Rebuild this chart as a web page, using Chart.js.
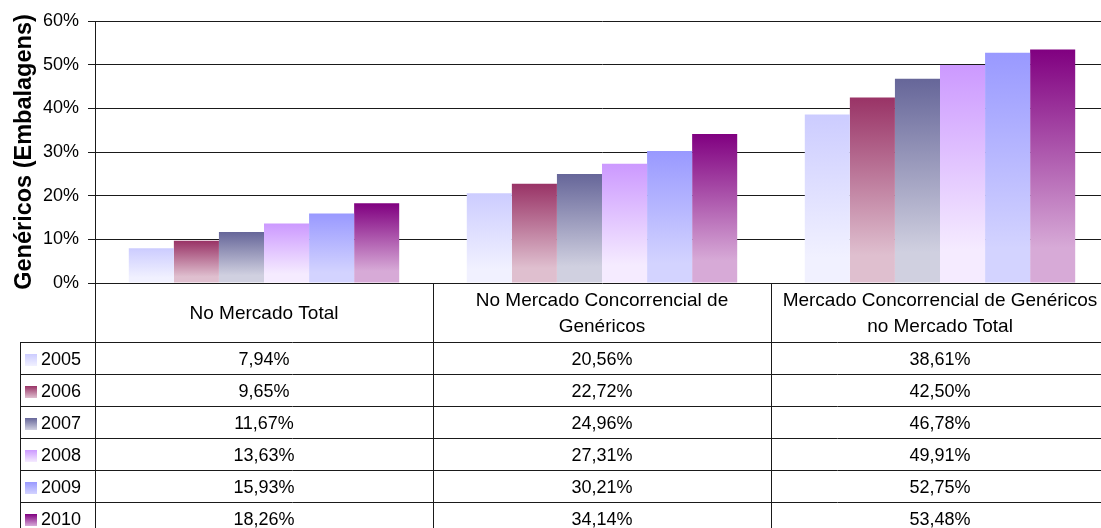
<!DOCTYPE html>
<html>
<head>
<meta charset="utf-8">
<script src="https://cdn.jsdelivr.net/npm/chart.js@4/dist/chart.umd.min.js"></script>
<style>
    html, body { margin: 0; padding: 0; overflow: hidden; background: #fff; }
    #wrap { width: 1110px; height: 528px; }
</style>
</head>
<body>
<div id="wrap"><canvas id="chart" width="1110" height="528"></canvas></div>
<script>
const categories = [
    ['No Mercado Total'],
    ['No Mercado Concorrencial de', 'Genéricos'],
    ['Mercado Concorrencial de Genéricos', 'no Mercado Total']
];
const years = ['2005', '2006', '2007', '2008', '2009', '2010'];
const values2005 = [7.94, 20.56, 38.61];
const values2006 = [9.65, 22.72, 42.50];
const values2007 = [11.67, 24.96, 46.78];
const values2008 = [13.63, 27.31, 49.91];
const values2009 = [15.93, 30.21, 52.75];
const values2010 = [18.26, 34.14, 53.48];
const yTicks = [0, 10, 20, 30, 40, 50, 60];

const seriesValues = [values2005, values2006, values2007, values2008, values2009, values2010];
// top colour / light bottom colour of every series gradient
const topColors = ['#ccccff', '#993366', '#666699', '#cc99ff', '#9999ff', '#800080'];
const bottomColors = ['#f1f1ff', '#dfbfcf', '#d0d0e0', '#f5ebff', '#d3d3ff', '#d7aad7'];

const fontFamily = "'Liberation Sans', Arial, sans-serif";
const headerHeight = 59;
const rowHeight = 32;
const tableLeft = 20;

function barGradient(ctx, i) {
    const chart = ctx.chart;
    if (!chart.chartArea || ctx.parsed === undefined) return topColors[i];
    const y = chart.scales.y;
    const top = y.getPixelForValue(ctx.parsed.y);
    const bottom = y.getPixelForValue(0);
    const g = chart.ctx.createLinearGradient(0, top, 0, bottom);
    g.addColorStop(0, topColors[i]);
    g.addColorStop(0.85, bottomColors[i]);
    g.addColorStop(1, bottomColors[i]);
    return g;
}

function fmt(v) {
    return v.toFixed(2).replace('.', ',') + '%';
}

const dataTable = {
    id: 'dataTable',
    afterDraw(chart) {
        const ctx = chart.ctx;
        const x = chart.scales.x;
        const area = chart.chartArea;
        const right = chart.width;
        const colW = x.width / categories.length;
        const top = area.bottom;
        const headBottom = top + headerHeight;
        const bottom = headBottom + rowHeight * years.length;

        ctx.save();
        ctx.strokeStyle = '#1a1a1a';
        ctx.lineWidth = 1;
        ctx.beginPath();
        // vertical lines
        ctx.moveTo(area.left + 0.5, top);
        ctx.lineTo(area.left + 0.5, bottom);
        for (let i = 1; i < categories.length; i++) {
            const cx = Math.round(area.left + colW * i) + 0.5;
            ctx.moveTo(cx, top);
            ctx.lineTo(cx, bottom);
        }
        ctx.moveTo(tableLeft + 0.5, headBottom);
        ctx.lineTo(tableLeft + 0.5, bottom);
        // horizontal lines
        for (let r = 0; r <= years.length; r++) {
            const ly = Math.round(headBottom + rowHeight * r) + 0.5;
            ctx.moveTo(tableLeft, ly);
            ctx.lineTo(right, ly);
        }
        ctx.stroke();

        ctx.fillStyle = '#000';
        ctx.font = '19px ' + fontFamily;
        ctx.textAlign = 'center';
        ctx.textBaseline = 'middle';
        categories.forEach((lines, i) => {
            const cx = x.getPixelForValue(i);
            const mid = top + headerHeight / 2 + 1;
            lines.forEach((line, k) => {
                const ly = mid + (k - (lines.length - 1) / 2) * 26;
                ctx.fillText(line, cx, ly);
            });
        });

        ctx.font = '18px ' + fontFamily;
        years.forEach((year, r) => {
            const cy = headBottom + rowHeight * r + rowHeight / 2 + 2;
            const sy = cy - 6;
            const g = ctx.createLinearGradient(0, sy, 0, sy + 12);
            g.addColorStop(0, topColors[r]);
            g.addColorStop(1, bottomColors[r]);
            ctx.fillStyle = g;
            ctx.fillRect(25, sy, 12, 12);
            ctx.fillStyle = '#000';
            ctx.textAlign = 'left';
            ctx.fillText(year, 41, cy);
            ctx.textAlign = 'center';
            seriesValues[r].forEach((v, i) => {
                ctx.fillText(fmt(v), x.getPixelForValue(i), cy);
            });
        });
        ctx.restore();
    }
};

const chart = new Chart(document.getElementById('chart'), {
    type: 'bar',
    data: {
        labels: categories.map(c => c.join(' ')),
        datasets: years.map((year, i) => ({
            label: year,
            data: seriesValues[i],
            backgroundColor: ctx => barGradient(ctx, i),
            borderWidth: 0,
            categoryPercentage: 0.8,
            barPercentage: 1.0
        }))
    },
    options: {
        responsive: false,
        animation: false,
        events: [],
        layout: { padding: { top: 21, right: 1, bottom: 528 - 283, left: 0 } },
        plugins: {
            legend: { display: false },
            tooltip: { enabled: false }
        },
        scales: {
            x: { display: false },
            y: {
                min: 0,
                max: 60,
                afterFit: scale => { scale.width = 95; },
                afterBuildTicks: scale => { scale.ticks = yTicks.map(v => ({ value: v })); },
                ticks: {
                    color: '#000',
                    padding: 9,
                    font: { family: fontFamily, size: 18 },
                    callback: v => v + '%'
                },
                grid: { color: '#1a1a1a', lineWidth: 1, tickLength: 7 },
                border: { color: '#1a1a1a', width: 1 },
                title: {
                    display: true,
                    text: 'Genéricos (Embalagens)',
                    color: '#000',
                    padding: { top: 10, bottom: 0 },
                    font: { family: fontFamily, size: 23.5, weight: 'bold' }
                }
            }
        }
    },
    plugins: [dataTable]
});
</script>
</body>
</html>
